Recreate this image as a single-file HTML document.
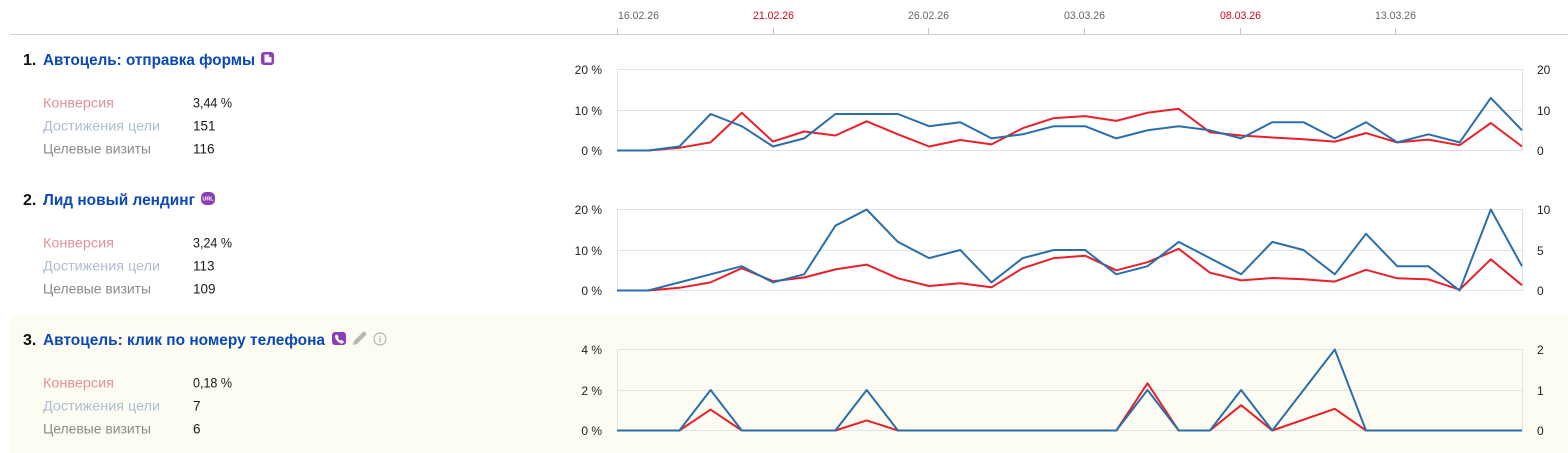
<!DOCTYPE html>
<html><head><meta charset="utf-8"><style>
html,body{margin:0;padding:0;background:#fff;}
svg{display:block;}
text{font-family:"Liberation Sans","Noto Sans CJK SC",sans-serif;}
.t{font-size:16px;font-weight:bold;fill:#0a48b8;}
.n{font-size:16px;font-weight:bold;fill:#111;}
.l1{font-size:13.5px;fill:#e58f98;}
.l2{font-size:13.5px;fill:#aebdd0;}
.l3{font-size:13.5px;fill:#8a8a8a;}
.v{font-size:13.5px;fill:#1a1a1a;}
.ax{font-size:12px;fill:#222;}
.d{font-size:11px;fill:#666;}
.dr{font-size:11px;fill:#cc0a1e;}
.g{stroke:#e2e2e2;stroke-width:1;fill:none;}
.b{stroke:#2a6eaa;stroke-width:2;fill:none;stroke-linejoin:round;}
.r{stroke:#e8202a;stroke-width:2;fill:none;stroke-linejoin:round;}
</style></head><body>
<svg width="1568" height="453" viewBox="0 0 1568 453" xmlns="http://www.w3.org/2000/svg">
<rect x="0" y="0" width="1568" height="453" fill="#fff"/>
<rect x="11" y="314.5" width="1557" height="139" fill="#fdfcf3"/>

<line x1="10" y1="34.5" x2="1568" y2="34.5" stroke="#cdd3dd" stroke-width="1"/>
<g stroke="#b8c6d8" stroke-width="1">
<line x1="617.5" y1="28" x2="617.5" y2="34"/>
<line x1="773.5" y1="28" x2="773.5" y2="34"/>
<line x1="928.5" y1="28" x2="928.5" y2="34"/>
<line x1="1084.5" y1="28" x2="1084.5" y2="34"/>
<line x1="1240.5" y1="28" x2="1240.5" y2="34"/>
<line x1="1395.5" y1="28" x2="1395.5" y2="34"/>
</g>
<text class="d" x="618" y="19" textLength="41" lengthAdjust="spacingAndGlyphs">16.02.26</text>
<text class="dr" x="753" y="19" textLength="41" lengthAdjust="spacingAndGlyphs">21.02.26</text>
<text class="d" x="908" y="19" textLength="41" lengthAdjust="spacingAndGlyphs">26.02.26</text>
<text class="d" x="1064" y="19" textLength="41" lengthAdjust="spacingAndGlyphs">03.03.26</text>
<text class="dr" x="1220" y="19" textLength="41" lengthAdjust="spacingAndGlyphs">08.03.26</text>
<text class="d" x="1375" y="19" textLength="41" lengthAdjust="spacingAndGlyphs">13.03.26</text>

<!-- ROW 1 -->
<text class="n" x="23" y="65">1.</text>
<text class="t" x="43" y="65" textLength="212" lengthAdjust="spacingAndGlyphs">Автоцель: отправка формы</text>
<rect x="261" y="52" width="13" height="13" rx="3" fill="#8a3fb7"/>
<path d="M264.5 54.5 h4.5 l2.5 2.5 v5.5 h-7 z" fill="#fff"/>
<path d="M269 54.5 v2.5 h2.5" fill="#8a3fb7"/>
<text class="l1" x="43" y="107.3" textLength="71" lengthAdjust="spacingAndGlyphs">Конверсия</text>
<text class="l2" x="43" y="130.3" textLength="117" lengthAdjust="spacingAndGlyphs">Достижения цели</text>
<text class="l3" x="43" y="153.3" textLength="108" lengthAdjust="spacingAndGlyphs">Целевые визиты</text>
<text class="v" x="193" y="107.3" textLength="39" lengthAdjust="spacingAndGlyphs">3,44 %</text>
<text class="v" x="193" y="130.3">151</text>
<text class="v" x="193" y="153.3">116</text>

<rect class="g" x="617.5" y="69.5" width="905" height="81"/>
<line class="g" x1="617.5" y1="110.5" x2="1522.5" y2="110.5"/>
<text class="ax" x="602" y="74" text-anchor="end">20 %</text>
<text class="ax" x="602" y="115" text-anchor="end">10 %</text>
<text class="ax" x="602" y="155" text-anchor="end">0 %</text>
<text class="ax" x="1537" y="74">20</text>
<text class="ax" x="1537" y="115">10</text>
<text class="ax" x="1537" y="155">0</text>
<polyline class="r" points="617,150.5 648.2,150.5 679.4,147.8 710.6,142.4 741.8,112.8 773,141.6 804.2,131.5 835.4,135.5 866.7,121.3 897.9,134.3 929.1,146.5 960.3,140 991.5,144.4 1022.7,128.2 1053.9,118.1 1085.1,116.1 1116.3,120.9 1147.5,112.8 1178.7,108.8 1209.9,132.3 1241.1,135.5 1272.3,137.5 1303.5,139.2 1334.8,141.6 1366,133.1 1397.2,142.4 1428.4,139.6 1459.6,145.2 1490.8,123 1522,146.5"/>
<polyline class="b" points="617,150.5 648.2,150.5 679.4,146.5 710.6,114 741.8,126.2 773,146.5 804.2,138.4 835.4,114 866.7,114 897.9,114 929.1,126.2 960.3,122.2 991.5,138.4 1022.7,134.3 1053.9,126.2 1085.1,126.2 1116.3,138.4 1147.5,130.3 1178.7,126.2 1209.9,130.3 1241.1,138.4 1272.3,122.2 1303.5,122.2 1334.8,138.4 1366,122.2 1397.2,142.4 1428.4,134.3 1459.6,142.4 1490.8,97.9 1522,130.3"/>

<!-- ROW 2 -->
<text class="n" x="23" y="205">2.</text>
<text class="t" x="43" y="205" textLength="152" lengthAdjust="spacingAndGlyphs">Лид новый лендинг</text>
<rect x="201" y="192" width="14" height="13" rx="5" fill="#8a3fb7"/>
<text x="208" y="200.6" text-anchor="middle" style="font-size:5.5px;font-weight:bold;fill:#fff">URL</text>
<text class="l1" x="43" y="247.3" textLength="71" lengthAdjust="spacingAndGlyphs">Конверсия</text>
<text class="l2" x="43" y="270.3" textLength="117" lengthAdjust="spacingAndGlyphs">Достижения цели</text>
<text class="l3" x="43" y="293.3" textLength="108" lengthAdjust="spacingAndGlyphs">Целевые визиты</text>
<text class="v" x="193" y="247.3" textLength="39" lengthAdjust="spacingAndGlyphs">3,24 %</text>
<text class="v" x="193" y="270.3">113</text>
<text class="v" x="193" y="293.3">109</text>

<rect class="g" x="617.5" y="209.5" width="905" height="81"/>
<line class="g" x1="617.5" y1="250.5" x2="1522.5" y2="250.5"/>
<text class="ax" x="602" y="214" text-anchor="end">20 %</text>
<text class="ax" x="602" y="255" text-anchor="end">10 %</text>
<text class="ax" x="602" y="295" text-anchor="end">0 %</text>
<text class="ax" x="1537" y="214">10</text>
<text class="ax" x="1537" y="255">5</text>
<text class="ax" x="1537" y="295">0</text>
<polyline class="r" points="617,290.5 648.2,290.5 679.4,287.8 710.6,282.4 741.8,268.2 773,281.2 804.2,277.5 835.4,269.4 866.7,264.6 897.9,278.3 929.1,286 960.3,283.2 991.5,287.3 1022.7,268.2 1053.9,258.1 1085.1,255.7 1116.3,270.3 1147.5,262.2 1178.7,248.8 1209.9,272.7 1241.1,280.4 1272.3,278 1303.5,279.2 1334.8,281.6 1366,269.8 1397.2,278.3 1428.4,279.4 1459.6,289.7 1490.8,259.3 1522,285.2"/>
<polyline class="b" points="617,290.5 648.2,290.5 679.4,282.4 710.6,274.3 741.8,266.2 773,282.4 804.2,274.3 835.4,225.7 866.7,209.5 897.9,241.9 929.1,258.1 960.3,250 991.5,282.4 1022.7,258.1 1053.9,250 1085.1,250 1116.3,274.3 1147.5,266.2 1178.7,241.9 1209.9,258.1 1241.1,274.3 1272.3,241.9 1303.5,250 1334.8,274.3 1366,233.8 1397.2,266.2 1428.4,266.2 1459.6,290.5 1490.8,209.5 1522,266.2"/>

<!-- ROW 3 -->
<text class="n" x="23" y="345">3.</text>
<text class="t" x="43" y="345" textLength="282" lengthAdjust="spacingAndGlyphs">Автоцель: клик по номеру телефона</text>
<rect x="332" y="332" width="14" height="13" rx="3" fill="#8a3fb7"/>
<path d="M335.5 335 q1 -0.8 2 0 l1 1.6 q0.3 0.8 -0.6 1.4 q0.8 1.8 2.4 2.6 q0.6 -0.9 1.4 -0.6 l1.6 1 q0.8 1 0 2 q-1.2 1 -3 0.2 q-3.6 -1.8 -5 -5.2 q-0.6 -1.8 0.2 -3 z" fill="#fff"/>
<path d="M353 345 l1 -4 l9 -9 q1 -1 2 0 l1 1 q1 1 0 2 l-9 9 z" fill="#b5b5b5"/>
<circle cx="380" cy="339" r="6" fill="none" stroke="#b0b0b0" stroke-width="1.2"/>
<rect x="379.4" y="338" width="1.3" height="4.2" fill="#b0b0b0"/>
<rect x="379.4" y="335.6" width="1.3" height="1.3" fill="#b0b0b0"/>
<text class="l1" x="43" y="387.3" textLength="71" lengthAdjust="spacingAndGlyphs">Конверсия</text>
<text class="l2" x="43" y="410.3" textLength="117" lengthAdjust="spacingAndGlyphs">Достижения цели</text>
<text class="l3" x="43" y="433.3" textLength="108" lengthAdjust="spacingAndGlyphs">Целевые визиты</text>
<text class="v" x="193" y="387.3" textLength="39" lengthAdjust="spacingAndGlyphs">0,18 %</text>
<text class="v" x="193" y="410.3">7</text>
<text class="v" x="193" y="433.3">6</text>

<rect class="g" x="617.5" y="349.5" width="905" height="81"/>
<line class="g" x1="617.5" y1="390.5" x2="1522.5" y2="390.5"/>
<text class="ax" x="602" y="354" text-anchor="end">4 %</text>
<text class="ax" x="602" y="395" text-anchor="end">2 %</text>
<text class="ax" x="602" y="435" text-anchor="end">0 %</text>
<text class="ax" x="1537" y="354">2</text>
<text class="ax" x="1537" y="395">1</text>
<text class="ax" x="1537" y="435">0</text>
<polyline class="r" points="617,430.5 679.4,430.5 710.6,409.6 741.8,430.5 835.4,430.5 866.7,420.4 897.9,430.5 1116.3,430.5 1147.5,383.3 1178.7,430.5 1209.9,430.5 1241.1,405.2 1272.3,430.5 1334.8,408.8 1366,430.5 1522,430.5"/>
<polyline class="b" points="617,430.5 679.4,430.5 710.6,390 741.8,430.5 835.4,430.5 866.7,390 897.9,430.5 1116.3,430.5 1147.5,390 1178.7,430.5 1209.9,430.5 1241.1,390 1272.3,430.5 1334.8,349.5 1366,430.5 1522,430.5"/>
</svg>
</body></html>
